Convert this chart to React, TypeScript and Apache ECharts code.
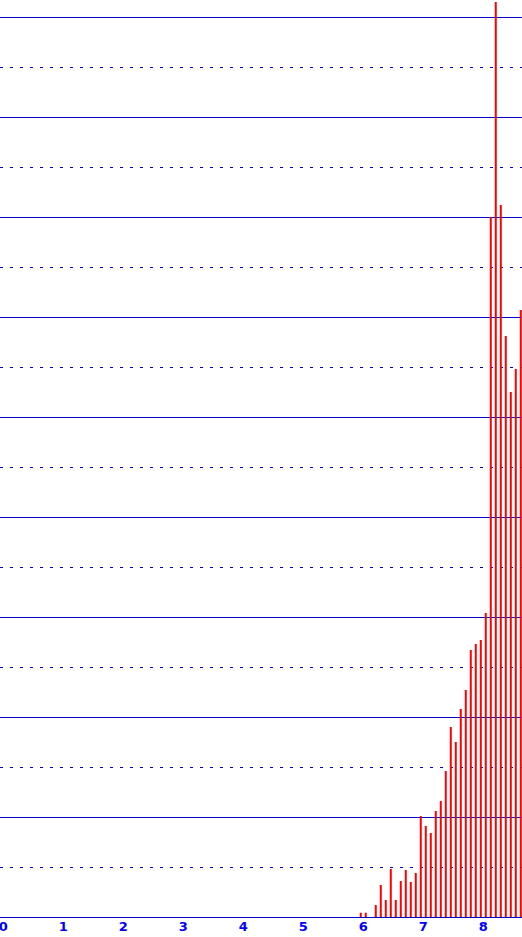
import { useEffect, useRef } from 'react';
import * as echarts from 'echarts';

// bar positions: first bar just before 6, then one every 1/12 unit
const barStart = 5.958;
const barStep = 1 / 12;
// bar heights, in grid units (one solid line = 1)
const barValues = [
  0.043, 0.043, 0, 0.12, 0.32, 0.17, 0.48, 0.17, 0.36, 0.47, 0.35, 0.44,
  1.01, 0.91, 0.84, 1.06, 1.16, 1.46, 1.9, 1.75, 2.08, 2.27, 2.67, 2.73,
  2.77, 3.04, 7.0, 9.15, 7.12, 5.81, 5.25, 5.48, 6.07,
];
const xTicks = [0, 1, 2, 3, 4, 5, 6, 7, 8];
const xMin = -3.3 / 60;
const xMax = (522 - 3.3) / 60;
const yMax = 9.5;

export default function App() {
  const ref = useRef<HTMLDivElement>(null);

  useEffect(() => {
    const dom = ref.current;
    if (!dom) return;
    document.body.style.margin = '0';
    const chart = echarts.init(dom, undefined, { renderer: 'svg' });

    const data = barValues.map((v, i) => [barStart + i * barStep, v]);

    chart.setOption({
      animation: false,
      grid: {
        left: 0,
        right: 0,
        top: 0,
        bottom: 20,
        containLabel: false,
        outerBoundsMode: 'none',
      },
      xAxis: {
        type: 'value',
        min: xMin,
        max: xMax,
        axisLine: { show: false },
        axisTick: { show: false },
        splitLine: { show: false },
        axisLabel: {
          customValues: xTicks,
          margin: 3,
          color: '#0000ff',
          fontSize: 13,
          fontWeight: 'bold',
          fontFamily: 'DejaVu Sans',
        },
      },
      yAxis: {
        type: 'value',
        min: 0,
        max: yMax,
        interval: 1,
        axisLine: { show: false },
        axisTick: { show: false },
        axisLabel: { show: false },
        splitLine: { show: true, lineStyle: { color: '#0000cc', width: 1 } },
        minorTick: { show: false, splitNumber: 2 },
        minorSplitLine: {
          show: true,
          lineStyle: { color: '#0000cc', width: 1, type: [3, 7] },
        },
      },
      series: [
        {
          type: 'bar',
          data,
          barWidth: 2,
          z: 10,
          itemStyle: { color: '#ff0000' },
        },
      ],
    } as echarts.EChartsOption);

    return () => {
      chart.dispose();
    };
  }, []);

  return (
    <div
      ref={ref}
      style={{ position: 'absolute', left: 0, top: -33, width: 522, height: 970 }}
    />
  );
}
